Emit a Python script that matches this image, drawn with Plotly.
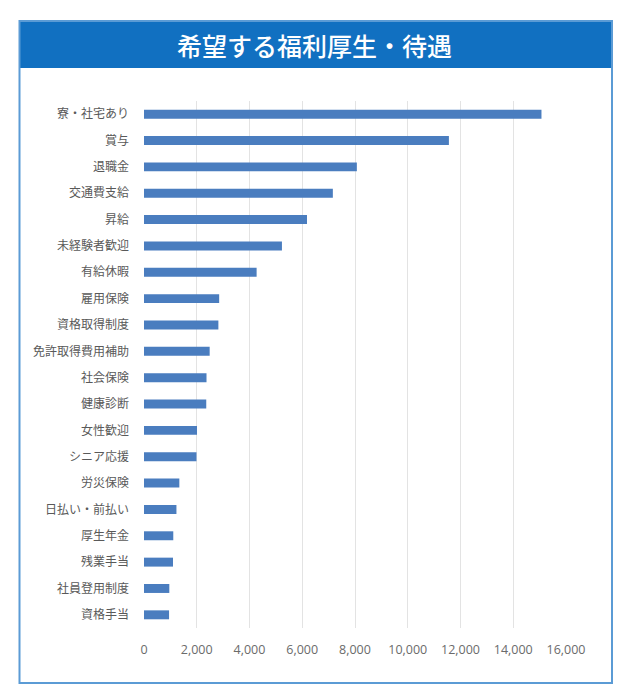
import plotly.graph_objects as go

categories = ["寮・社宅あり", "賞与", "退職金", "交通費支給", "昇給", "未経験者歓迎",
              "有給休暇", "雇用保険", "資格取得制度", "免許取得費用補助", "社会保険",
              "健康診断", "女性歓迎", "シニア応援", "労災保険", "日払い・前払い",
              "厚生年金", "残業手当", "社員登用制度", "資格手当"]
values = [15070, 11560, 8070, 7160, 6180, 5230, 4270, 2850, 2820, 2490, 2370,
          2360, 2010, 1990, 1340, 1230, 1110, 1100, 960, 950]
x_ticks = [0, 2000, 4000, 6000, 8000, 10000, 12000, 14000, 16000]
title_text = "希望する福利厚生・待遇"

W, H = 628, 700
ML, MR, MT, MB = 144, 62, 101, 72
PW, PH = W - ML - MR, H - MT - MB

def px(x):
    return (x - ML) / PW

def py(y):
    return 1 - (y - MT) / PH

fig = go.Figure(go.Bar(
    x=values, y=categories, orientation="h",
    marker=dict(color="#4a7dbf", line=dict(width=0)),
    width=0.34,
))

fig.update_layout(
    width=W, height=H,
    margin=dict(l=ML, r=MR, t=MT, b=MB),
    paper_bgcolor="white", plot_bgcolor="white",
    showlegend=False,
    font=dict(family="Noto Sans CJK JP", color="#595959"),
    xaxis=dict(range=[0, 16000], tickvals=x_ticks, tickformat=",",
               showgrid=True, gridcolor="#e3e3e3", gridwidth=1,
               zeroline=False, showline=False, ticks="",
               tickfont=dict(family="Open Sans", size=12.5, color="#6b6b6b"),
               ticklabelstandoff=12, fixedrange=True),
    yaxis=dict(autorange="reversed", showgrid=False, zeroline=False,
               showline=False, ticks="",
               tickfont=dict(family="Noto Sans CJK JP", size=12, color="#595959"),
               ticklabelstandoff=14, fixedrange=True),
    shapes=[
        dict(type="rect", xref="paper", yref="paper",
             x0=px(19), x1=px(612), y0=py(21), y1=py(68),
             fillcolor="#1170c1", line=dict(width=0), layer="below"),
        dict(type="rect", xref="paper", yref="paper",
             x0=px(19.5), x1=px(612), y0=py(21), y1=py(683),
             fillcolor="rgba(0,0,0,0)", line=dict(color="#5b9bd5", width=2)),
    ],
    annotations=[
        dict(text=title_text, xref="paper", yref="paper",
             x=px(314), y=py(45), xanchor="center", yanchor="middle",
             showarrow=False,
             font=dict(family="Noto Sans CJK JP", size=25, color="white", weight=500)),
    ],
)

fig.write_html("out.html", config={"displayModeBar": False})
with open("out.html", "r", encoding="utf-8") as f:
    html = f.read()
html = html.replace("<head>", "<head><style>html,body{margin:0;padding:0;}</style>", 1)
with open("out.html", "w", encoding="utf-8") as f:
    f.write(html)
